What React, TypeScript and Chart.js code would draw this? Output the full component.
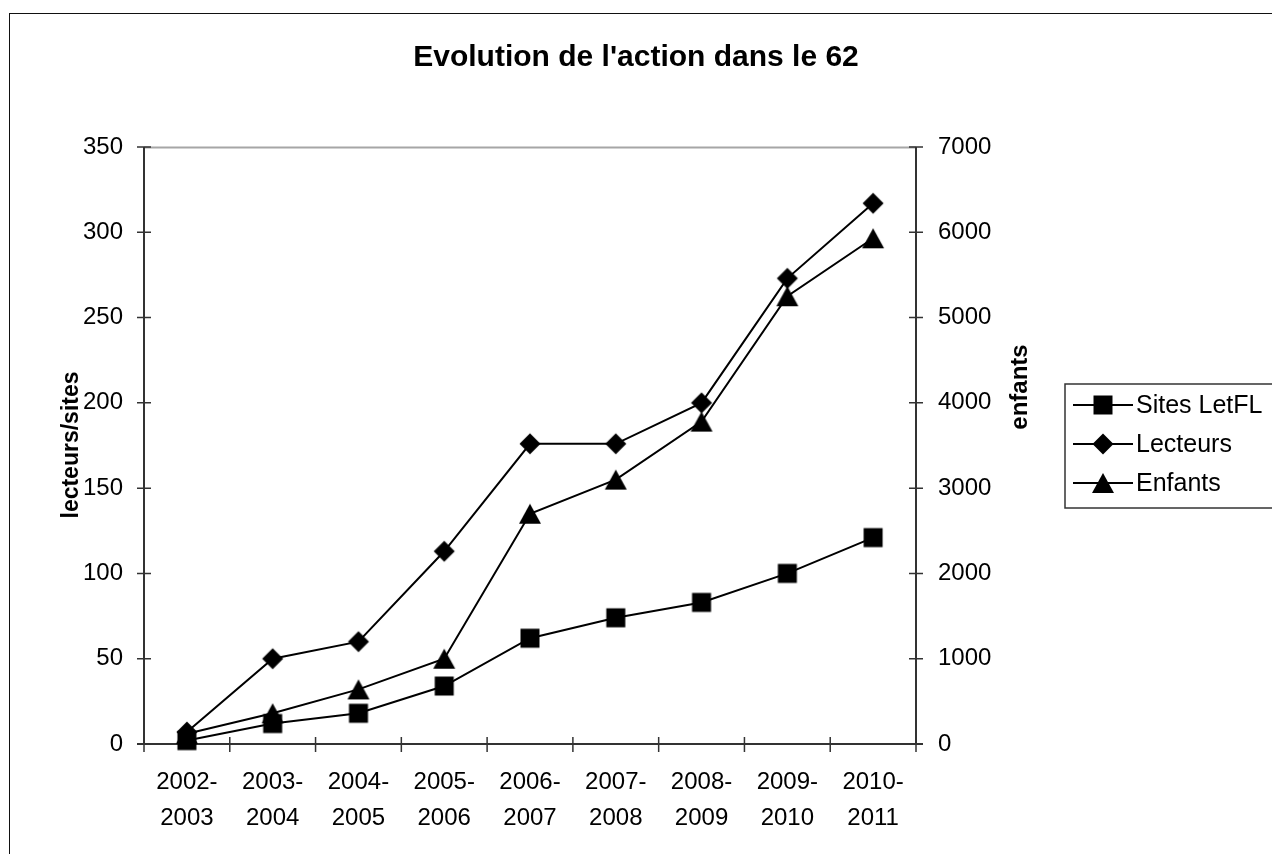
import React, { useEffect, useRef } from 'react';
import { Chart, registerables } from 'chart.js';

Chart.register(...registerables);

const categories = [
  ['2002-', '2003'],
  ['2003-', '2004'],
  ['2004-', '2005'],
  ['2005-', '2006'],
  ['2006-', '2007'],
  ['2007-', '2008'],
  ['2008-', '2009'],
  ['2009-', '2010'],
  ['2010-', '2011'],
];
const sitesLetFL = [2, 12, 18, 34, 62, 74, 83, 100, 121];
const lecteurs = [7, 50, 60, 113, 176, 176, 200, 273, 317];
const enfants = [120, 360, 640, 1000, 2700, 3100, 3780, 5250, 5930];

const seriesNames = ['Sites LetFL', 'Lecteurs', 'Enfants'];
const leftMax = 350;
const leftStep = 50;
const rightMax = 7000;
const rightStep = 1000;

const FONT = '"Liberation Sans", Arial, Helvetica, sans-serif';

function makeMarker(kind: string): HTMLCanvasElement {
  const c = document.createElement('canvas');
  c.width = 24;
  c.height = 24;
  const ctx = c.getContext('2d')!;
  ctx.fillStyle = '#000';
  ctx.beginPath();
  if (kind === 'square') {
    ctx.rect(2.5, 2.5, 19, 19);
  } else if (kind === 'diamond') {
    ctx.moveTo(12, 1.5);
    ctx.lineTo(22.5, 12);
    ctx.lineTo(12, 22.5);
    ctx.lineTo(1.5, 12);
    ctx.closePath();
  } else {
    ctx.moveTo(12, 2);
    ctx.lineTo(23, 22);
    ctx.lineTo(1, 22);
    ctx.closePath();
  }
  ctx.fill();
  return c;
}

export default function App() {
  const ref = useRef<HTMLCanvasElement | null>(null);

  useEffect(() => {
    if (!ref.current) return;
    const markers = [makeMarker('square'), makeMarker('diamond'), makeMarker('triangle')];

    const decor = {
      id: 'decor',
      beforeDraw(chart: any) {
        const ctx = chart.ctx;
        ctx.save();
        ctx.fillStyle = '#fff';
        ctx.fillRect(0, 0, chart.width, chart.height);
        ctx.strokeStyle = '#111';
        ctx.lineWidth = 1;
        ctx.strokeRect(9.5, 13.5, 3000, 3000);
        ctx.restore();
      },
      beforeDatasetsDraw(chart: any) {
        const ctx = chart.ctx;
        const a = chart.chartArea;
        const x = chart.scales.x;
        const y = chart.scales.y;
        const y1 = chart.scales.y1;
        ctx.save();
        ctx.strokeStyle = '#a6a6a6';
        ctx.lineWidth = 2;
        ctx.beginPath();
        ctx.moveTo(a.left, a.top + 0.5);
        ctx.lineTo(a.right, a.top + 0.5);
        ctx.stroke();
        ctx.strokeStyle = '#333';
        ctx.lineWidth = 2;
        ctx.beginPath();
        ctx.moveTo(a.left, a.top);
        ctx.lineTo(a.left, a.bottom);
        ctx.moveTo(a.right, a.top);
        ctx.lineTo(a.right, a.bottom);
        ctx.moveTo(a.left - 7, a.bottom);
        ctx.lineTo(a.right + 7, a.bottom);
        ctx.stroke();
        ctx.lineWidth = 1.5;
        ctx.beginPath();
        for (let v = 0; v <= leftMax; v += leftStep) {
          const py = y.getPixelForValue(v);
          ctx.moveTo(a.left - 7, py);
          ctx.lineTo(a.left + 7, py);
        }
        for (let v = 0; v <= rightMax; v += rightStep) {
          const py = y1.getPixelForValue(v);
          ctx.moveTo(a.right - 7, py);
          ctx.lineTo(a.right + 7, py);
        }
        const n = categories.length;
        const step = x.getPixelForValue(1) - x.getPixelForValue(0);
        for (let i = 0; i <= n; i++) {
          const px = i < n ? x.getPixelForValue(i) - step / 2 : a.right;
          ctx.moveTo(px, a.bottom - 7);
          ctx.lineTo(px, a.bottom + 8);
        }
        ctx.stroke();
        ctx.restore();
      },
      afterDraw(chart: any) {
        const ctx = chart.ctx;
        ctx.save();
        ctx.fillStyle = '#000';
        ctx.textAlign = 'center';
        ctx.textBaseline = 'middle';
        ctx.font = 'bold 30px ' + FONT;
        ctx.fillText("Evolution de l'action dans le 62", 636, 58);

        ctx.font = 'bold 23px ' + FONT;
        ctx.save();
        ctx.translate(72, 445);
        ctx.rotate(-Math.PI / 2);
        ctx.fillText('lecteurs/sites', 0, 0);
        ctx.restore();
        ctx.font = 'bold 24px ' + FONT;
        ctx.save();
        ctx.translate(1020, 387);
        ctx.rotate(-Math.PI / 2);
        ctx.fillText('enfants', 0, 0);
        ctx.restore();

        ctx.strokeStyle = '#333';
        ctx.lineWidth = 1.5;
        ctx.strokeRect(1065, 384, 400, 124);
        const rows = [405, 444, 483];
        ctx.font = '25px ' + FONT;
        ctx.textAlign = 'left';
        for (let i = 0; i < 3; i++) {
          const ry = rows[i];
          ctx.strokeStyle = '#000';
          ctx.lineWidth = 2;
          ctx.beginPath();
          ctx.moveTo(1073, ry);
          ctx.lineTo(1133, ry);
          ctx.stroke();
          ctx.drawImage(markers[i], 1103 - 12, ry - 12);
          ctx.fillText(seriesNames[i], 1136, ry + 1);
        }
        ctx.restore();
      },
    };

    const chart = new Chart(ref.current, {
      type: 'line',
      data: {
        labels: categories as any,
        datasets: [
          {
            label: seriesNames[0],
            data: sitesLetFL,
            yAxisID: 'y',
            borderColor: '#000',
            borderWidth: 2,
            pointStyle: markers[0] as any,
            pointRadius: 12,
            clip: false as any,
          },
          {
            label: seriesNames[1],
            data: lecteurs,
            yAxisID: 'y',
            borderColor: '#000',
            borderWidth: 2,
            pointStyle: markers[1] as any,
            pointRadius: 12,
            clip: false as any,
          },
          {
            label: seriesNames[2],
            data: enfants,
            yAxisID: 'y1',
            borderColor: '#000',
            borderWidth: 2,
            pointStyle: markers[2] as any,
            pointRadius: 12,
            clip: false as any,
          },
        ],
      },
      options: {
        responsive: false,
        animation: false,
        devicePixelRatio: 1,
        layout: { padding: { left: 0, right: 0, top: 147, bottom: 0 } },
        plugins: {
          legend: { display: false },
          title: { display: false },
          tooltip: { enabled: false },
        },
        scales: {
          x: {
            type: 'category',
            offset: true,
            grid: { display: false, drawTicks: false },
            border: { display: false },
            ticks: {
              color: '#000',
              font: { family: FONT, size: 24, lineHeight: 1.5 },
              padding: 20,
              maxRotation: 0,
              autoSkip: false,
            },
            afterFit(scale: any) {
              scale.height = 110;
            },
          },
          y: {
            position: 'left',
            min: 0,
            max: leftMax,
            grid: { display: false, drawTicks: false },
            border: { display: false },
            ticks: {
              stepSize: leftStep,
              color: '#000',
              font: { family: FONT, size: 24 },
              padding: 21,
              callback: (v: any) => String(v),
            },
            afterFit(scale: any) {
              scale.width = 144;
            },
          },
          y1: {
            position: 'right',
            min: 0,
            max: rightMax,
            grid: { display: false, drawTicks: false },
            border: { display: false },
            ticks: {
              stepSize: rightStep,
              color: '#000',
              font: { family: FONT, size: 24 },
              padding: 22,
              callback: (v: any) => String(v),
            },
            afterFit(scale: any) {
              scale.width = 356;
            },
          },
        },
      },
      plugins: [decor],
    });
    return () => chart.destroy();
  }, []);

  return (
    <div style={{ position: 'absolute', left: 0, top: 0, width: 1272, height: 854, overflow: 'hidden' }}>
      <canvas ref={ref} width={1272} height={854} style={{ display: 'block' }} />
    </div>
  );
}
